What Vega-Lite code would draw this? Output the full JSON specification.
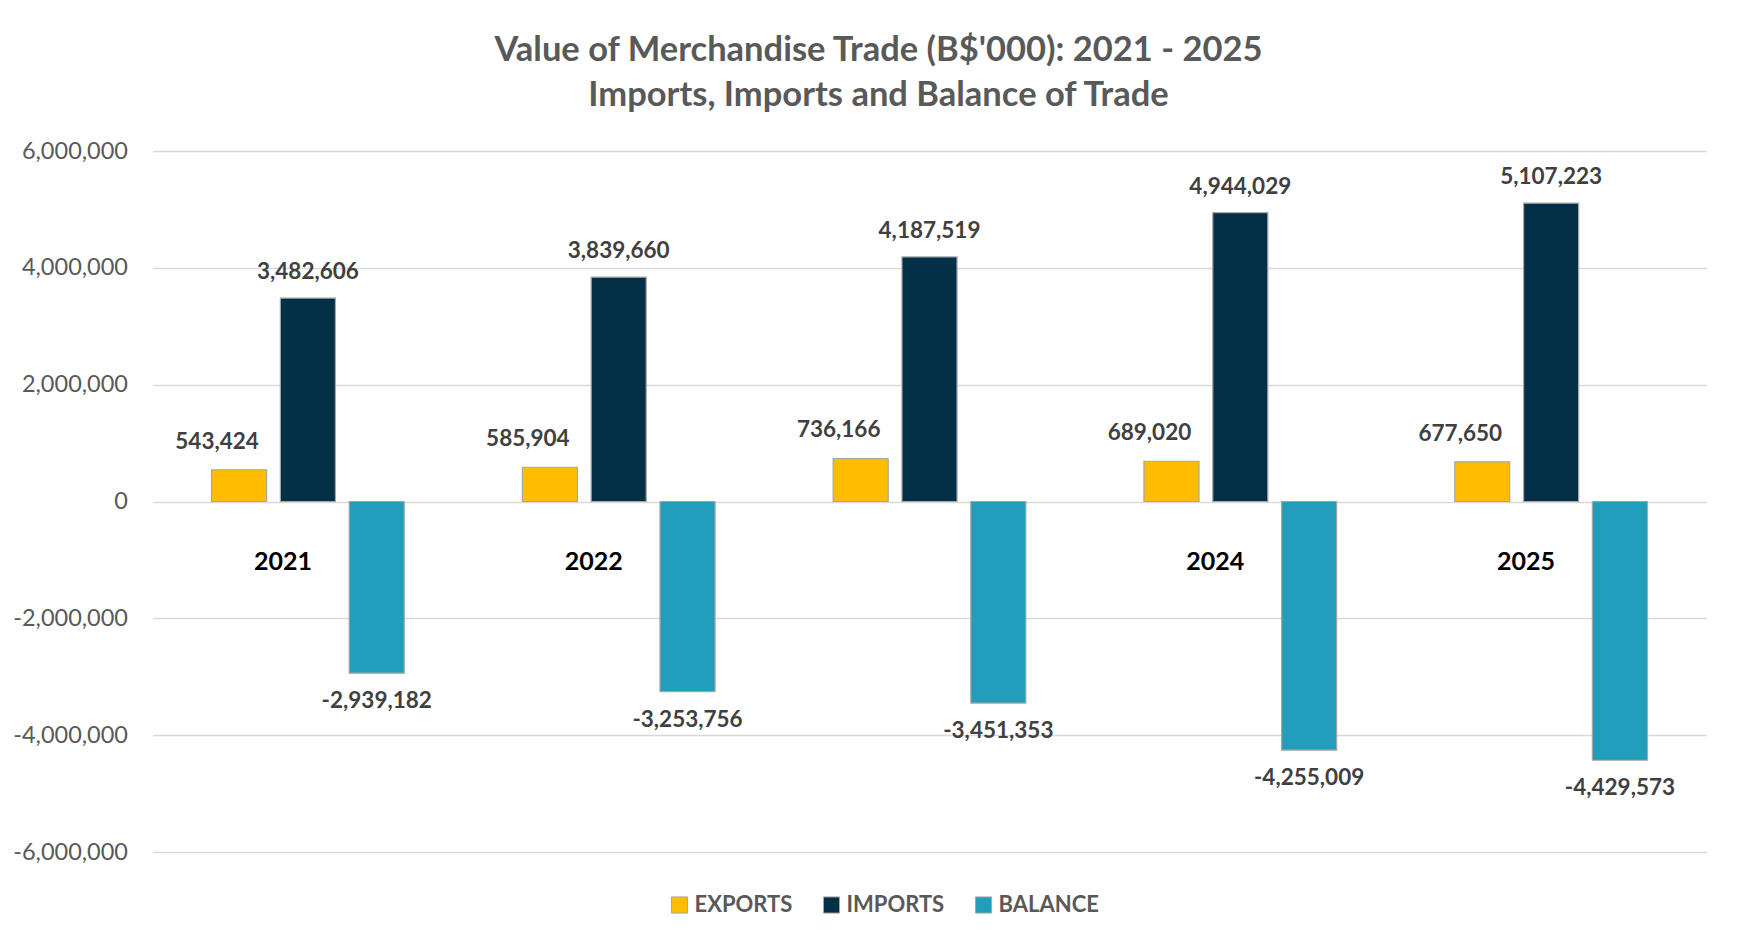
{
  "$schema": "https://vega.github.io/schema/vega-lite/v6.json",
  "width": 1554,
  "height": 701,
  "padding": {"left": 12.5, "top": 33, "right": 38, "bottom": 10},
  "background": "white",
  "title": {
    "text": ["Value of Merchandise Trade (B$'000): 2021 - 2025", "Imports, Imports and Balance of Trade"],
    "font": "Lato",
    "fontSize": 34.5,
    "fontWeight": "bold",
    "color": "#595959",
    "lineHeight": 45,
    "anchor": "middle",
    "frame": "group",
    "dx": -51,
    "offset": 25.5
  },
  "data": {
    "values": [
      {"year": "2021", "series": "EXPORTS", "value": 543424},
      {"year": "2021", "series": "IMPORTS", "value": 3482606},
      {"year": "2021", "series": "BALANCE", "value": -2939182},
      {"year": "2022", "series": "EXPORTS", "value": 585904},
      {"year": "2022", "series": "IMPORTS", "value": 3839660},
      {"year": "2022", "series": "BALANCE", "value": -3253756},
      {"year": "2023", "series": "EXPORTS", "value": 736166},
      {"year": "2023", "series": "IMPORTS", "value": 4187519},
      {"year": "2023", "series": "BALANCE", "value": -3451353},
      {"year": "2024", "series": "EXPORTS", "value": 689020},
      {"year": "2024", "series": "IMPORTS", "value": 4944029},
      {"year": "2024", "series": "BALANCE", "value": -4255009},
      {"year": "2025", "series": "EXPORTS", "value": 677650},
      {"year": "2025", "series": "IMPORTS", "value": 5107223},
      {"year": "2025", "series": "BALANCE", "value": -4429573}
    ]
  },
  "encoding": {
    "x": {
      "field": "year",
      "type": "nominal",
      "scale": {"paddingInner": 0.38, "paddingOuter": 0.19},
      "axis": null
    },
    "xOffset": {
      "field": "series",
      "type": "nominal",
      "scale": {"domain": ["EXPORTS", "IMPORTS", "BALANCE"], "paddingInner": 0.2, "paddingOuter": 0}
    },
    "y": {
      "field": "value",
      "type": "quantitative",
      "scale": {"domain": [-6000000, 6000000], "nice": false, "zero": false},
      "axis": {
        "title": null,
        "values": [-6000000, -4000000, -2000000, 0, 2000000, 4000000, 6000000],
        "format": ",d",
        "domain": false,
        "ticks": false,
        "labelPadding": 25,
        "labelFont": "Lato",
        "labelFontSize": 23.5,
        "labelColor": "#595959",
        "gridColor": "#d9d9d9",
        "gridWidth": 1.3
      }
    }
  },
  "layer": [
    {
      "mark": {"type": "bar", "stroke": "#a6a6a6", "strokeWidth": 1.2},
      "encoding": {
        "color": {
          "field": "series",
          "type": "nominal",
          "scale": {"domain": ["EXPORTS", "IMPORTS", "BALANCE"], "range": ["#FFBC00", "#032F47", "#229DBC"]},
          "legend": {
            "title": null,
            "orient": "none",
            "legendX": 516,
            "legendY": 743,
            "direction": "horizontal",
            "symbolType": "square",
            "symbolSize": 260,
            "symbolStrokeColor": "#a6a6a6",
            "symbolStrokeWidth": 1,
            "labelFont": "Lato",
            "labelFontSize": 22,
            "labelFontWeight": "bold",
            "labelColor": "#595959",
            "columnPadding": 28
          }
        }
      }
    },
    {
      "transform": [{"filter": "datum.series == 'EXPORTS'"}],
      "mark": {"type": "text", "font": "Lato", "fontSize": 22.5, "fontWeight": "bold", "color": "#404040", "baseline": "middle", "dy": -28, "dx": -22},
      "encoding": {"text": {"field": "value", "type": "quantitative", "format": ","}}
    },
    {
      "transform": [{"filter": "datum.series == 'IMPORTS'"}],
      "mark": {"type": "text", "font": "Lato", "fontSize": 22.5, "fontWeight": "bold", "color": "#404040", "baseline": "middle", "dy": -26},
      "encoding": {"text": {"field": "value", "type": "quantitative", "format": ","}}
    },
    {
      "transform": [{"filter": "datum.series == 'BALANCE'"}],
      "mark": {"type": "text", "font": "Lato", "fontSize": 22.5, "fontWeight": "bold", "color": "#404040", "baseline": "middle", "dy": 28},
      "encoding": {"text": {"field": "value", "type": "quantitative", "format": ","}}
    },
    {
      "transform": [{"filter": "datum.series == 'IMPORTS' && datum.year != '2023'"}],
      "mark": {"type": "text", "font": "Lato", "fontSize": 25, "fontWeight": "bold", "color": "#000000", "baseline": "middle", "dx": -25},
      "encoding": {
        "y": {"datum": -1040000},
        "text": {"field": "year", "type": "nominal"}
      }
    }
  ],
  "config": {
    "view": {"stroke": null},
    "locale": {"number": {"decimal": ".", "thousands": ",", "grouping": [3], "currency": ["$", ""], "minus": "-"}}
  }
}
